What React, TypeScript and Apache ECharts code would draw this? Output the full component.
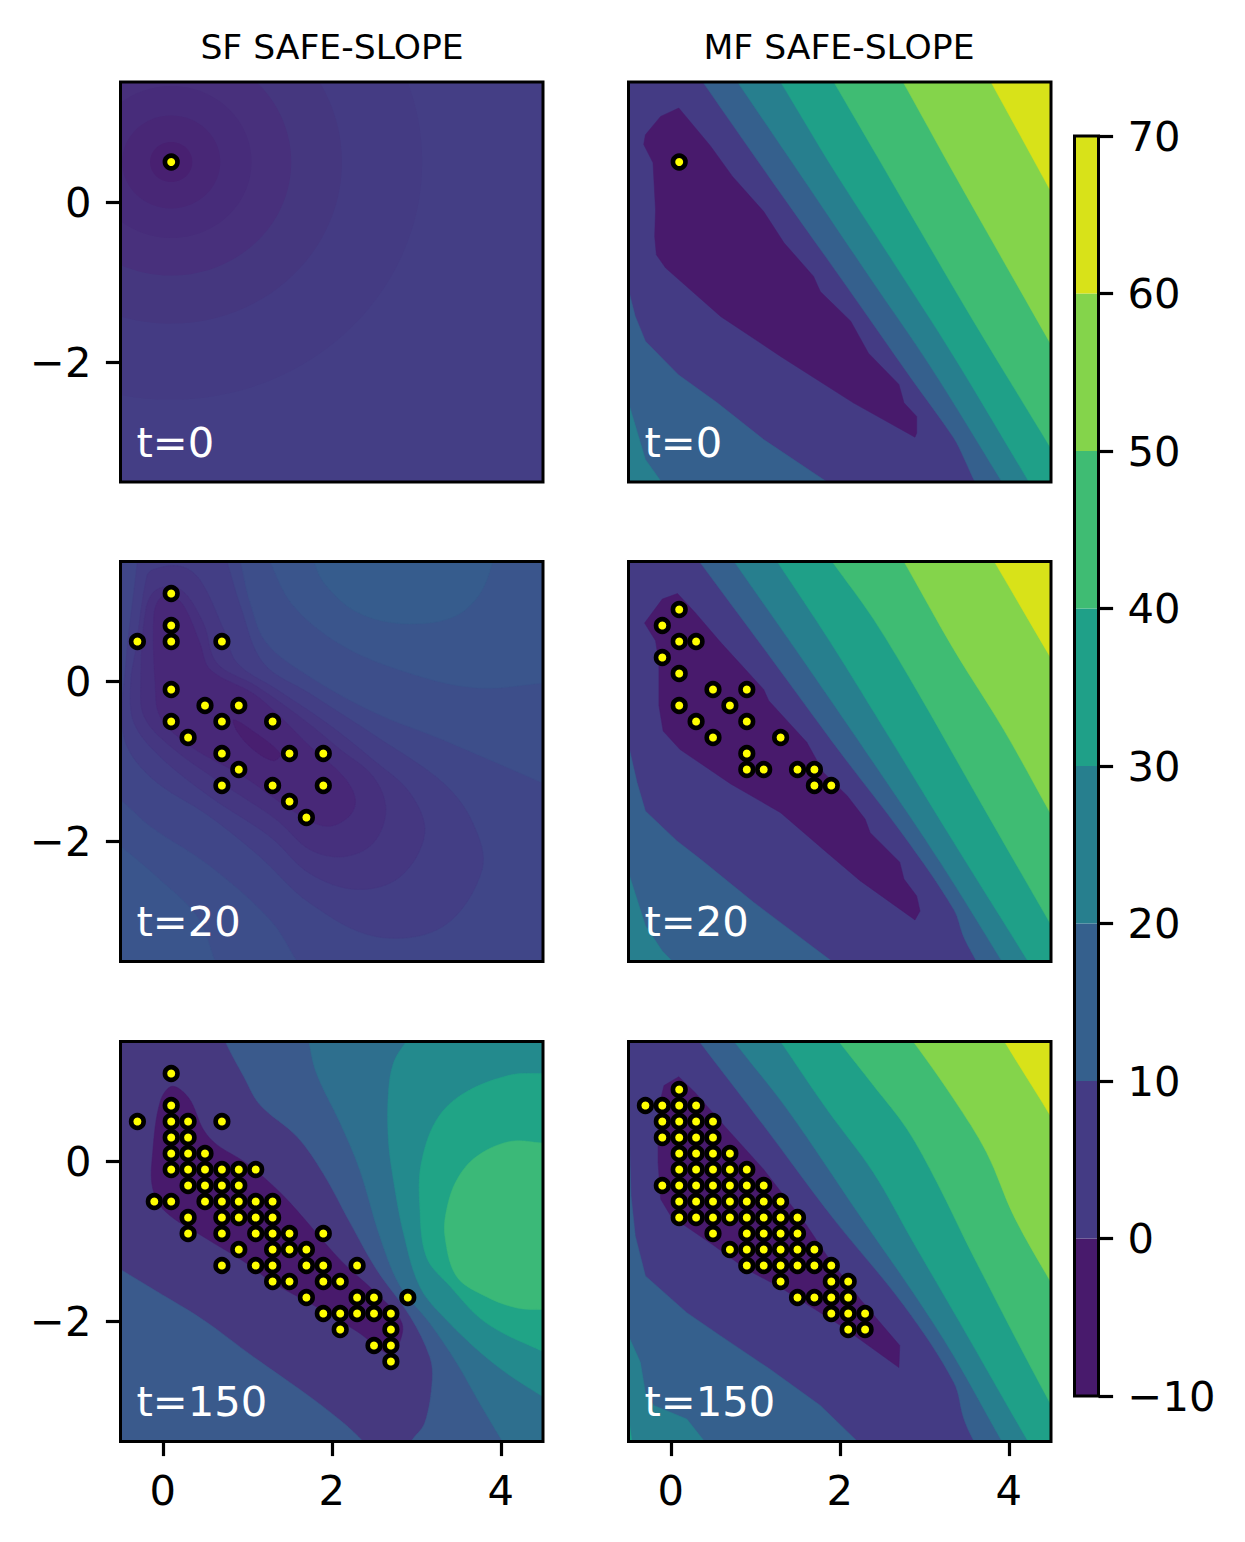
import React, { useEffect, useRef } from 'react';
import * as echarts from 'echarts';

const FONT = 'DejaVu Sans';

// colour bands of the shared colour bar
const barLevels = [-10, 0, 10, 20, 30, 40, 50, 60, 70];
const barColors = ['#481a6c', '#443b84', '#35608d', '#277f8e', '#1fa088', '#3fbc73', '#84d44b', '#d8e219'];

// sampled points, one row per y: [y, xs]
const pointsT0 = [[0.5, [0.1]]];
const sfPointsT20 = [
  [1.1, [0.1]], [0.7, [0.1]], [0.5, [-0.3, 0.1, 0.7]], [-0.1, [0.1]], [-0.3, [0.5, 0.9]],
  [-0.5, [0.1, 0.7, 1.3]], [-0.7, [0.3]], [-0.9, [0.7, 1.5, 1.9]], [-1.1, [0.9]],
  [-1.3, [0.7, 1.3, 1.9]], [-1.5, [1.5]], [-1.7, [1.7]],
];
const sfPointsT150 = [
  [1.1, [0.1]], [0.7, [0.1]], [0.5, [-0.3, 0.1, 0.3, 0.7]], [0.3, [0.1, 0.3]], [0.1, [0.1, 0.3, 0.5]],
  [-0.1, [0.1, 0.3, 0.5, 0.7, 0.9, 1.1]], [-0.3, [0.3, 0.5, 0.7, 0.9]],
  [-0.5, [-0.1, 0.1, 0.5, 0.7, 0.9, 1.1, 1.3]], [-0.7, [0.3, 0.7, 0.9, 1.1, 1.3]],
  [-0.9, [0.3, 0.7, 1.1, 1.3, 1.5, 1.9]], [-1.1, [0.9, 1.3, 1.5, 1.7]],
  [-1.3, [0.7, 1.1, 1.3, 1.7, 1.9, 2.3]], [-1.5, [1.3, 1.5, 1.9, 2.1]], [-1.7, [1.7, 2.3, 2.5, 2.9]],
  [-1.9, [1.9, 2.1, 2.3, 2.5, 2.7]], [-2.1, [2.1, 2.7]], [-2.3, [2.5, 2.7]], [-2.5, [2.7]],
];
const mfPointsT20 = [
  [0.9, [0.1]], [0.7, [-0.1]], [0.5, [0.1, 0.3]], [0.3, [-0.1]], [0.1, [0.1]], [-0.1, [0.5, 0.9]],
  [-0.3, [0.1, 0.7]], [-0.5, [0.3, 0.9]], [-0.7, [0.5, 1.3]], [-0.9, [0.9]],
  [-1.1, [0.9, 1.1, 1.5, 1.7]], [-1.3, [1.7, 1.9]],
];
const mfPointsT150 = [
  [0.9, [0.1]], [0.7, [-0.3, -0.1, 0.1, 0.3]], [0.5, [-0.1, 0.1, 0.3, 0.5]], [0.3, [-0.1, 0.1, 0.3, 0.5]],
  [0.1, [0.1, 0.3, 0.5, 0.7]], [-0.1, [0.1, 0.3, 0.5, 0.7, 0.9]],
  [-0.3, [-0.1, 0.1, 0.3, 0.5, 0.7, 0.9, 1.1]], [-0.5, [0.1, 0.3, 0.5, 0.7, 0.9, 1.1, 1.3]],
  [-0.7, [0.1, 0.3, 0.5, 0.7, 0.9, 1.1, 1.3, 1.5]], [-0.9, [0.5, 0.9, 1.1, 1.3, 1.5]],
  [-1.1, [0.7, 0.9, 1.1, 1.3, 1.5, 1.7]], [-1.3, [0.9, 1.1, 1.3, 1.5, 1.7, 1.9]],
  [-1.5, [1.3, 1.9, 2.1]], [-1.7, [1.5, 1.7, 1.9, 2.1]], [-1.9, [1.9, 2.1, 2.3]], [-2.1, [2.1, 2.3]],
];

// whole plot area
const fullArea = [[-0.5, 1.5], [4.5, 1.5], [4.5, -3.5], [-0.5, -3.5]];

// SF t=0: rings round the first sample
const sfRingCentre = [0.1, 0.5];
const sfRingRadii = [2.97, 2.02, 1.42, 0.95, 0.58, 0.25];
const sfRingColors = ['#443b83', '#45377f', '#48307c', '#472c7a', '#482776', '#482071'];

// contour outlines below run on past the frame where they leave it, the frame clips them

// SF t=20
const sf20L5 = [[-0.25, 2], [-0.3, 1.5], [-0.44, 0.19], [-0.46, -0.69], [-0.15, -1.19], [0.56, -1.69], [1.15, -2.19], [1.74, -2.77], [2.53, -3.19], [3.32, -3.06], [3.78, -2.35], [3.67, -1.77], [3.32, -1.27], [2.53, -0.69], [1.74, -0.15], [1.19, 0.23], [0.92, 0.94], [0.76, 1.5], [0.6, 2]];
const sf20L4 = [[-0.19, 1.31], [-0.32, 0.4], [-0.38, -0.02], [-0.34, -0.52], [-0.03, -0.94], [0.56, -1.44], [1.27, -1.94], [1.74, -2.4], [2.3, -2.6], [2.81, -2.44], [3.1, -1.9], [2.93, -1.4], [2.49, -0.98], [1.94, -0.52], [1.35, -0.1], [0.88, 0.23], [0.72, 0.65], [0.44, 1.27], [0.21, 1.44], [-0.11, 1.4]];
const sf20L3 = [[-0.2, 0.9], [-0.26, -0.02], [-0.22, -0.44], [0.09, -0.81], [0.64, -1.23], [1.35, -1.73], [1.74, -2.1], [2.14, -2.19], [2.49, -2.02], [2.64, -1.6], [2.49, -1.19], [2.1, -0.85], [1.67, -0.48], [1.11, -0.06], [0.64, 0.23], [0.48, 0.73], [0.21, 1.15], [-0.07, 1.15]];
const sf20L2 = [[-0.11, 0.69], [-0.09, -0.02], [-0.03, -0.44], [0.33, -0.81], [0.96, -1.19], [1.59, -1.65], [1.94, -1.81], [2.2, -1.69], [2.28, -1.48], [2.14, -1.19], [1.74, -0.81], [1.39, -0.44], [1.07, -0.15], [0.56, 0.15], [0.44, 0.48], [0.25, 0.94], [0.07, 1.1], [-0.07, 0.98]];
const sf20L1 = [[0.84, -0.48], [1.04, -0.6], [1.39, -0.9], [1.31, -0.99], [1.07, -0.85], [0.88, -0.625]];
const sf20LowLeft1 = [[-0.9, -1.2], [-0.5, -1.48], [-0.15, -1.81], [0.56, -2.31], [1.27, -2.98], [1.59, -3.5], [1.9, -4], [-1.5, -4.5]];
const sf20LowLeft2 = [[-0.9, -1.75], [-0.5, -2.06], [-0.03, -2.48], [0.41, -2.94], [0.62, -3.5], [0.8, -4], [-1.5, -4.5]];
const sf20Upper1 = [[0.8, 2], [0.92, 1.5], [1.03, 1], [1.23, 0.48], [1.74, 0.06], [2.53, -0.4], [3.32, -0.73], [4.5, -1.27], [5, -1.5], [6, 3]];
const sf20Upper2 = [[1.1, 2], [1.27, 1.5], [1.55, 0.94], [2.14, 0.44], [2.93, 0.1], [3.71, -0.08], [4.5, -0.02], [5, 0.05], [6, 3]];
const sf20Upper3 = [[1.7, 2], [1.79, 1.5], [1.94, 1.19], [2.33, 0.85], [2.93, 0.72], [3.52, 0.85], [3.85, 1.31], [3.88, 2]];

// SF t=150
const sf150Dark = [[0.11, 0.94], [-0.03, 0.75], [-0.12, 0.1], [-0.12, -0.33], [0.03, -0.625], [0.48, -0.94], [0.96, -1.25], [1.31, -1.52], [1.74, -1.77], [2.3, -2.125], [2.69, -2.42], [2.77, -2.35], [2.83, -2.02], [2.53, -1.65], [2.1, -1.23], [1.51, -0.52], [1.23, -0.23], [0.96, 0], [0.64, 0.21], [0.48, 0.4], [0.31, 0.79]];
const sf150Upper1 = [[0.55, 2], [0.74, 1.5], [0.96, 1.06], [1.15, 0.71], [1.59, 0.31], [1.9, -0.15], [2.22, -0.77], [2.53, -1.35], [2.93, -1.94], [3.16, -2.44], [3.19, -2.73], [3.1, -3.27], [2.94, -3.5], [2.7, -4], [6, -5], [6, 3]];
const sf150LowLeft = [[-0.9, -1.1], [-0.5, -1.35], [-0.07, -1.625], [0.48, -1.98], [1.07, -2.44], [1.74, -2.94], [2.14, -3.27], [2.37, -3.5], [2.8, -4], [-1.5, -4.5]];
const sf150Upper2 = [[1.65, 2], [1.73, 1.5], [1.82, 1.1], [2.1, 0.48], [2.33, -0.1], [2.57, -0.94], [2.81, -1.56], [3.16, -2.02], [3.48, -2.52], [3.75, -3.02], [4.02, -3.5], [4.3, -4], [6, -5], [6, 3]];
const sf150Upper3 = [[3.2, 2], [2.88, 1.5], [2.73, 1.23], [2.67, 0.85], [2.67, 0.27], [2.73, -0.23], [2.85, -0.9], [3.04, -1.56], [3.32, -1.94], [3.91, -2.52], [4.5, -2.94], [5.1, -3.3], [6, -4], [6, 3]];
const sf150Upper4 = [[5, 1.12], [4.5, 1.1], [4.11, 1.08], [3.56, 0.85], [3.24, 0.52], [3.06, -0.02], [3.04, -0.52], [3.12, -1.19], [3.4, -1.56], [3.83, -2.02], [4.5, -2.375], [5, -2.6]];
const sf150Upper5 = [[5, 0.2], [4.5, 0.23], [4.11, 0.25], [3.71, 0.06], [3.48, -0.23], [3.36, -0.6], [3.34, -0.94], [3.48, -1.44], [3.83, -1.69], [4.19, -1.83], [4.5, -1.85], [5, -1.85]];

// MF t=0
const mf0Dark = [[0.095, 1.175], [-0.12, 1.07], [-0.3, 0.84], [-0.32, 0.72], [-0.21, 0.49], [-0.18, -0.1], [-0.19, -0.43], [-0.17, -0.66], [-0.06, -0.825], [0.59, -1.43], [1.3, -1.93], [2.16, -2.51], [2.89, -2.94], [2.91, -2.89], [2.91, -2.68], [2.76, -2.51], [2.7, -2.28], [2.34, -1.89], [2.13, -1.49], [1.77, -1.12], [1.69, -0.93], [1.34, -0.51], [1.1, -0.12], [0.73, 0.32], [0.47, 0.7]];
const mf0Upper10 = [[0.05, 2], [0.38, 1.5], [1.16, 0.32], [2.08, -1.05], [2.83, -2.18], [3.35, -2.95], [3.47, -3.2], [3.6, -3.5], [3.85, -4], [6, -5], [6, 3]];
const mf0Upper20 = [[0.47, 2], [0.79, 1.5], [1.55, 0.32], [2.4, -1.01], [3.07, -2.05], [3.92, -3.5], [4.2, -4], [6, -5], [6, 3]];
const mf0Upper30 = [[1, 2], [1.3, 1.5], [1.93, 0.4], [2.64, -0.76], [3.35, -1.93], [4.24, -3.5], [4.52, -4], [6, -5], [6, 3]];
const mf0Upper40 = [[1.65, 2], [1.93, 1.5], [2.4, 0.65], [2.95, -0.35], [3.55, -1.43], [4.5, -3.08], [5, -3.95], [6, 3]];
const mf0Upper50 = [[2.48, 2], [2.75, 1.5], [3.35, 0.36], [4.5, -1.78], [5, -2.7], [6, 3]];
const mf0Upper60 = [[3.53, 2], [3.79, 1.5], [4.5, 0.13], [5, -0.85], [6, 3]];
const mf0Lower10 = [[-0.5, -1.1], [-0.42, -1.43], [-0.3, -1.74], [0.09, -2.16], [0.55, -2.51], [1.1, -2.97], [1.85, -3.5], [-0.5, -3.5]];
const mf0Lower20 = [[-0.5, -2.51], [-0.3, -3.22], [-0.11, -3.5], [-0.5, -3.5]];

// MF t=20
const mf20Dark = [[0.08, 1.1], [-0.1, 1.03], [-0.31, 0.73], [-0.18, 0.51], [-0.14, 0.24], [-0.14, -0.3], [-0.09, -0.62], [0.11, -0.85], [0.71, -1.28], [1.3, -1.64], [1.85, -2.14], [2.24, -2.49], [2.89, -2.98], [2.95, -2.87], [2.91, -2.68], [2.76, -2.47], [2.71, -2.26], [2.36, -1.89], [2.3, -1.72], [2.09, -1.43], [1.81, -1.14], [1.61, -0.76], [1.16, -0.24], [1.1, -0.1], [0.59, 0.49], [0.29, 0.86]];
const mf20Upper10 = [[0, 2], [0.34, 1.5], [1.14, 0.36], [2.01, -0.89], [2.76, -1.93], [3.35, -2.85], [3.47, -3.2], [3.62, -3.5], [3.87, -4], [6, -5], [6, 3]];
const mf20Upper20 = [[0.42, 2], [0.75, 1.5], [1.61, 0.2], [2.48, -1.14], [3.19, -2.26], [3.92, -3.5], [4.2, -4], [6, -5], [6, 3]];
const mf20Upper30 = [[0.95, 2], [1.26, 1.5], [1.89, 0.49], [2.6, -0.72], [3.35, -2.01], [4.23, -3.5], [4.52, -4], [6, -5], [6, 3]];
const mf20Upper40 = [[1.58, 2], [1.91, 1.5], [2.4, 0.78], [2.95, -0.18], [3.58, -1.35], [4.5, -3.04], [5, -3.95], [6, 3]];
const mf20Upper50 = [[2.48, 2], [2.76, 1.5], [3.35, 0.4], [3.94, -0.6], [4.5, -1.66], [5, -2.6], [6, 3]];
const mf20Upper60 = [[3.55, 2], [3.83, 1.5], [4.5, 0.29], [5, -0.6], [6, 3]];
const mf20Lower10 = [[-0.5, -0.8], [-0.4, -1.26], [-0.3, -1.62], [0.07, -1.99], [0.35, -2.22], [0.98, -2.76], [1.91, -3.5], [-0.5, -3.5]];
const mf20Lower20 = [[-0.5, -2.39], [-0.3, -3.05], [-0.1, -3.37], [0.02, -3.5], [-0.5, -3.5]];

// MF t=150
const mf150Dark = [[0.095, 1.06], [-0.08, 0.95], [-0.15, 0.65], [-0.15, -0.01], [-0.12, -0.47], [0, -0.68], [0.51, -1.05], [0.9, -1.35], [1.3, -1.575], [2.01, -2.05], [2.7, -2.575], [2.71, -2.3], [2.24, -1.72], [1.85, -1.18], [1.61, -0.8], [1.1, -0.1], [0.63, 0.45], [0.29, 0.86]];
const mf150Upper10 = [[0, 2], [0.34, 1.5], [1.1, 0.45], [1.93, -0.72], [2.76, -1.8], [3.35, -2.76], [3.47, -3.22], [3.59, -3.5], [3.85, -4], [6, -5], [6, 3]];
const mf150Upper20 = [[0.4, 2], [0.75, 1.5], [1.38, 0.65], [2.24, -0.68], [2.87, -1.64], [3.35, -2.43], [3.92, -3.5], [4.2, -4], [6, -5], [6, 3]];
const mf150Upper30 = [[0.98, 2], [1.3, 1.5], [1.85, 0.65], [2.4, -0.14], [2.87, -1.01], [3.42, -2.01], [4.23, -3.5], [4.52, -4], [6, -5], [6, 3]];
const mf150Upper40 = [[1.62, 2], [1.99, 1.5], [2.4, 0.95], [2.8, 0.4], [3.15, -0.26], [3.58, -1.18], [4.5, -3.04], [5, -3.95], [6, 3]];
const mf150Upper50 = [[2.5, 2], [2.87, 1.5], [3.35, 0.78], [3.74, 0.11], [4.06, -0.68], [4.5, -1.51], [5, -2.4], [6, 3]];
const mf150Upper60 = [[3.68, 2], [3.95, 1.5], [4.5, 0.56], [5, -0.35], [6, 3]];
const mf150Lower10 = [[-0.5, 0.57], [-0.47, -0.43], [-0.42, -0.93], [-0.3, -1.43], [0.19, -1.89], [0.59, -2.18], [1.18, -2.6], [1.77, -3.05], [2.21, -3.5], [-0.5, -3.5]];
const mf150Lower20 = [[-0.5, -2.18], [-0.36, -2.51], [-0.3, -2.89], [-0.2, -3.05], [0.19, -3.22], [0.4, -3.5], [-0.5, -3.5]];
const mf150Lower30 = [[-0.5, -3.2], [-0.46, -3.5], [-0.5, -3.5]];

const [c0, c1, c2, c3, c4, c5, c6, c7] = barColors;
const SMOOTH = 0.35;

const sf20Layers = [
  [fullArea, '#404688'], [sf20Upper1, '#3d4e8a', SMOOTH], [sf20Upper2, '#3a558c', SMOOTH], [sf20Upper3, '#365c8d', SMOOTH],
  [sf20LowLeft1, '#3d4e8a', SMOOTH], [sf20LowLeft2, '#3a558c', SMOOTH],
  [sf20L5, '#433e85', SMOOTH], [sf20L4, '#453781', SMOOTH], [sf20L3, '#46307d', SMOOTH], [sf20L2, '#482878', SMOOTH], [sf20L1, '#481f70', SMOOTH],
];
const sf150Layers = [
  [fullArea, '#46397f'], [sf150Upper1, '#3a5a8c', SMOOTH], [sf150LowLeft, '#3a5a8c', SMOOTH], [sf150Upper2, '#2e6f8e', SMOOTH],
  [sf150Upper3, '#238a8d', SMOOTH], [sf150Upper4, '#20a486', SMOOTH], [sf150Upper5, '#3bb978', SMOOTH], [sf150Dark, c0, SMOOTH],
];
const mf0Layers = [
  [fullArea, c1], [mf0Upper10, c2, SMOOTH], [mf0Upper20, c3, SMOOTH], [mf0Upper30, c4, SMOOTH], [mf0Upper40, c5, SMOOTH], [mf0Upper50, c6, SMOOTH], [mf0Upper60, c7, SMOOTH],
  [mf0Lower10, c2], [mf0Lower20, c3], [mf0Dark, c0],
];
const mf20Layers = [
  [fullArea, c1], [mf20Upper10, c2, SMOOTH], [mf20Upper20, c3, SMOOTH], [mf20Upper30, c4, SMOOTH], [mf20Upper40, c5, SMOOTH], [mf20Upper50, c6, SMOOTH], [mf20Upper60, c7, SMOOTH],
  [mf20Lower10, c2], [mf20Lower20, c3], [mf20Dark, c0],
];
const mf150Layers = [
  [fullArea, c1], [mf150Upper10, c2, SMOOTH], [mf150Upper20, c3, SMOOTH], [mf150Upper30, c4, SMOOTH], [mf150Upper40, c5, SMOOTH], [mf150Upper50, c6, SMOOTH], [mf150Upper60, c7, SMOOTH],
  [mf150Lower10, c2], [mf150Lower20, c3], [mf150Lower30, c4], [mf150Dark, c0],
];

const panels: any[] = [
  { col: 0, row: 0, label: 't=0', points: pointsT0, layers: [[fullArea, '#443e85']], rings: true },
  { col: 1, row: 0, label: 't=0', points: pointsT0, layers: mf0Layers },
  { col: 0, row: 1, label: 't=20', points: sfPointsT20, layers: sf20Layers },
  { col: 1, row: 1, label: 't=20', points: mfPointsT20, layers: mf20Layers },
  { col: 0, row: 2, label: 't=150', points: sfPointsT150, layers: sf150Layers },
  { col: 1, row: 2, label: 't=150', points: mfPointsT150, layers: mf150Layers },
];

const colLeft = [120.5, 628.5];
const rowTop = [82, 561.5, 1041.5];
const PANEL_W = 422.5;
const PANEL_H = 400;

const minus = (v: number | string) => String(v).replace('-', '\u2212');

const App: React.FC = () => {
  const chartRef = useRef<HTMLDivElement>(null);

  useEffect(() => {
    if (!chartRef.current) return;
    const chart = echarts.init(chartRef.current, undefined, { renderer: 'svg' });

    const grid: any[] = [];
    const xAxis: any[] = [];
    const yAxis: any[] = [];
    const series: any[] = [];
    const graphic: any[] = [];

    panels.forEach((p, i) => {
      grid.push({
        show: true, z: 10, left: colLeft[p.col], top: rowTop[p.row], width: PANEL_W, height: PANEL_H,
        backgroundColor: 'transparent', borderColor: '#000', borderWidth: 3,
      });
      const showX = p.row === 2;
      const showY = p.col === 0;
      xAxis.push({
        gridIndex: i, type: 'value', min: -0.5, max: 4.5, splitLine: { show: false }, axisLine: { show: false, onZero: false },
        axisTick: { show: showX, length: 14.6, lineStyle: { color: '#000', width: 3.2 }, customValues: [0, 2, 4] },
        axisLabel: { show: showX, margin: 28, fontFamily: FONT, fontSize: 41.67, color: '#000', customValues: [0, 2, 4], formatter: minus },
      });
      yAxis.push({
        gridIndex: i, type: 'value', min: -3.5, max: 1.5, splitLine: { show: false }, axisLine: { show: false, onZero: false },
        axisTick: { show: showY, length: 14.6, lineStyle: { color: '#000', width: 3.2 }, customValues: [-2, 0] },
        axisLabel: { show: showY, margin: 29, fontFamily: FONT, fontSize: 41.67, color: '#000', customValues: [-2, 0], formatter: minus },
      });

      series.push({
        type: 'custom', xAxisIndex: i, yAxisIndex: i, clip: true, z: 2, silent: true,
        data: p.layers.map((l: any) => l[0][0]),
        renderItem: (params: any, api: any) => {
          const layer = p.layers[params.dataIndex];
          return {
            type: 'polygon',
            shape: { points: layer[0].map((pt: number[]) => api.coord(pt)), smooth: layer[2] || 0 },
            style: { fill: layer[1], stroke: layer[1], lineWidth: 0.5 },
          };
        },
      });

      if (p.rings) {
        series.push({
          type: 'custom', xAxisIndex: i, yAxisIndex: i, clip: true, z: 3, silent: true,
          data: sfRingRadii.map(() => sfRingCentre),
          renderItem: (params: any, api: any) => {
            const c = api.coord(sfRingCentre);
            const s = api.size([sfRingRadii[params.dataIndex], sfRingRadii[params.dataIndex]]);
            return {
              type: 'ellipse',
              shape: { cx: c[0], cy: c[1], rx: s[0], ry: s[1] },
              style: { fill: sfRingColors[params.dataIndex] },
            };
          },
        });
      }

      series.push({
        type: 'scatter', xAxisIndex: i, yAxisIndex: i, z: 20, silent: true, symbol: 'circle', symbolSize: 12.6,
        itemStyle: { color: '#ffff00', borderColor: '#000', borderWidth: 4.6, opacity: 1 },
        data: p.points.flatMap((r: any) => r[1].map((x: number) => [x, r[0]])),
      });

      graphic.push({
        type: 'text', z: 30, x: colLeft[p.col] + 16, y: rowTop[p.row] + PANEL_H - 61,
        style: { text: p.label, fill: '#fff', font: `41.67px "${FONT}"`, textVerticalAlign: 'top' },
      });
    });

    // colour bar
    const cb = panels.length;
    grid.push({
      show: true, z: 10, left: 1074.5, top: 136, width: 24, height: 1260,
      backgroundColor: 'transparent', borderColor: '#000', borderWidth: 3,
    });
    xAxis.push({ gridIndex: cb, type: 'value', min: 0, max: 1, show: false });
    yAxis.push({
      gridIndex: cb, type: 'value', position: 'right', min: -10, max: 70, interval: 10,
      splitLine: { show: false }, axisLine: { show: false, onZero: false },
      axisTick: { show: true, length: 14.6, lineStyle: { color: '#000', width: 3.2 } },
      axisLabel: { margin: 29, fontFamily: FONT, fontSize: 41.67, color: '#000', formatter: minus, showMinLabel: true, showMaxLabel: true },
    });
    series.push({
      type: 'custom', xAxisIndex: cb, yAxisIndex: cb, clip: true, z: 2, silent: true,
      data: barColors.map((_, k) => [0, barLevels[k]]),
      renderItem: (params: any, api: any) => {
        const k = params.dataIndex;
        const a = api.coord([0, barLevels[k + 1]]);
        const b = api.coord([1, barLevels[k]]);
        return { type: 'rect', shape: { x: a[0], y: a[1], width: b[0] - a[0], height: b[1] - a[1] }, style: { fill: barColors[k] } };
      },
    });

    const titleStyle = { fontFamily: FONT, fontSize: 34.6, fontWeight: 'normal', color: '#000' };
    chart.setOption({
      animation: false,
      backgroundColor: '#fff',
      title: [
        { text: 'SF SAFE-SLOPE', left: 327, top: 24, textAlign: 'center', textStyle: titleStyle },
        { text: 'MF SAFE-SLOPE', left: 834, top: 24, textAlign: 'center', textStyle: titleStyle },
      ],
      grid, xAxis, yAxis, series, graphic,
    });

    return () => {
      chart.dispose();
    };
  }, []);

  return (
    <div
      ref={chartRef}
      style={{ position: 'absolute', left: 0, top: 0, width: '1245px', height: '1542px' }}
    />
  );
};

export default App;
